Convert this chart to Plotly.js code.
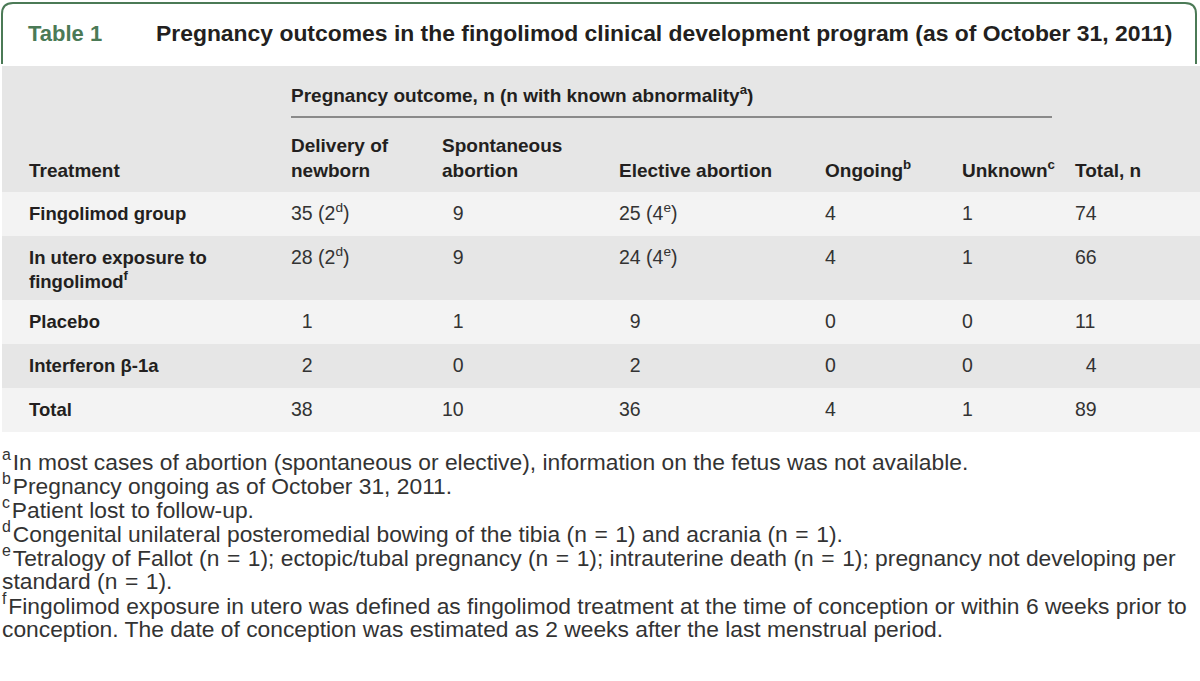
<!DOCTYPE html>
<html>
<head>
<meta charset="utf-8">
<script src="https://cdn.plot.ly/plotly-3.0.1.min.js"></script>
<style>html,body{margin:0;padding:0;background:#fff;}#chart{width:1200px;height:681px;}</style>
</head>
<body>
<div id="chart"></div>
<script>
// ---------- data ----------
const tableNumber = 'Table 1';
const tableTitle = 'Pregnancy outcomes in the fingolimod clinical development program (as of October 31, 2011)';
const spannerLabel = 'Pregnancy outcome, n (n with known abnormality<sup>a</sup>)';
const columnHeaders = ['Treatment', 'Delivery of<br>newborn', 'Spontaneous<br>abortion', 'Elective abortion', 'Ongoing<sup>b</sup>', 'Unknown<sup>c</sup>', 'Total, n'];
const treatments = ['Fingolimod group', 'In utero exposure to<br>fingolimod<sup>f</sup>', 'Placebo', 'Interferon β-1a', 'Total'];
const deliveryOfNewborn = [35, 28, 1, 2, 38];
const deliveryAbnormal = [2, 2, null, null, null];
const deliveryAbnormalNote = 'd';
const spontaneousAbortion = [9, 9, 1, 0, 10];
const electiveAbortion = [25, 24, 9, 2, 36];
const electiveAbnormal = [4, 4, null, null, null];
const electiveAbnormalNote = 'e';
const ongoing = [4, 4, 0, 0, 4];
const unknown = [1, 1, 0, 0, 1];
const totalN = [74, 66, 11, 4, 89];
const footnoteKeys = ['a', 'b', 'c', 'd', 'e', 'f'];
const footnoteTexts = [
  'In most cases of abortion (spontaneous or elective), information on the fetus was not available.',
  'Pregnancy ongoing as of October 31, 2011.',
  'Patient lost to follow-up.',
  'Congenital unilateral posteromedial bowing of the tibia (n = 1) and acrania (n = 1).',
  'Tetralogy of Fallot (n = 1); ectopic/tubal pregnancy (n = 1); intrauterine death (n = 1); pregnancy not developing per<br>standard (n = 1).',
  'Fingolimod exposure in utero was defined as fingolimod treatment at the time of conception or within 6 weeks prior to<br>conception. The date of conception was estimated as 2 weeks after the last menstrual period.'
];

// ---------- helpers ----------
const W = 1200, H = 681;
const px = x => x / W;
const py = y => 1 - y / H;
const FIG = '\u2007';
// blank superscript so every cell has the same text box height (keeps baselines aligned)
const GHOST = '<sup>\u00A0</sup>';
function withGhost(s) {
  const lines = s.split('<br>');
  if (lines[0].indexOf('<sup>') < 0) lines[0] += GHOST;
  return lines.join('<br>');
}
function formatColumn(vals, abn, note) {
  const maxLen = Math.max(...vals.map(v => String(v).length));
  return vals.map((v, i) => {
    let s = String(v);
    while (s.length < maxLen) s = FIG + s;
    if (abn && abn[i] != null) s += ' (' + abn[i] + '<sup>' + note + '</sup>)';
    return withGhost(s);
  });
}
const bold = s => s.split('<br>').map(l => '<b>' + l + '</b>').join('<br>');

const GREEN = '#4b7a56';
const DARK = '#231f20';
const BODY = '#333333';
const HEAD_BG = '#e6e6e6';
const ROW_LIGHT = '#f3f3f3';
const FONT = 'Liberation Sans';

const headerVals = [''].concat(columnHeaders.map(h => h.indexOf('<br>') >= 0 ? bold(h) : ' <br>' + bold(h)));
const cellCols = [
  treatments.map(() => ''),
  treatments.map(t => withGhost(bold(t))),
  formatColumn(deliveryOfNewborn, deliveryAbnormal, deliveryAbnormalNote),
  formatColumn(spontaneousAbortion),
  formatColumn(electiveAbortion, electiveAbnormal, electiveAbnormalNote),
  formatColumn(ongoing),
  formatColumn(unknown),
  formatColumn(totalN)
];
const rowFills = treatments.map((_, i) => i % 2 === 0 ? ROW_LIGHT : HEAD_BG);

const trace = {
  type: 'table',
  domain: {x: [px(2), 1], y: [py(480), py(127)]},
  columnwidth: [19, 262, 151, 177, 206, 137, 113, 133],
  header: {
    values: headerVals.map(v => [v]),
    align: 'left',
    height: 65,
    fill: {color: HEAD_BG},
    line: {width: 0, color: HEAD_BG},
    font: {family: FONT, size: 19, color: DARK}
  },
  cells: {
    values: cellCols,
    align: 'left',
    height: 44,
    fill: {color: [rowFills]},
    line: {width: 0, color: ROW_LIGHT},
    font: {family: FONT, size: [19, 18.5, 19.5, 19.5, 19.5, 19.5, 19.5, 19.5], color: [DARK, DARK, BODY, BODY, BODY, BODY, BODY, BODY]}
  }
};

const shapes = [
  {type: 'rect', xref: 'paper', yref: 'paper', x0: px(2), x1: 1, y0: py(128), y1: py(66), fillcolor: HEAD_BG, line: {width: 0}, layer: 'below'},
  {type: 'path', xref: 'paper', yref: 'paper',
   path: `M${px(2)},${py(64)} L${px(2)},${py(14)} Q${px(2)},${py(3)} ${px(13)},${py(3)} L${px(1185)},${py(3)} Q${px(1196)},${py(3)} ${px(1196)},${py(14)} L${px(1196)},${py(64)}`,
   line: {color: GREEN, width: 2}},
  {type: 'line', xref: 'paper', yref: 'paper', x0: px(291), x1: px(1052), y0: py(117), y1: py(117), line: {color: '#8a8a8a', width: 2}}
];

const annotations = [
  {text: '<b>' + tableNumber + '</b>', x: px(26), y: py(33), xref: 'paper', yref: 'paper', xanchor: 'left', yanchor: 'middle', showarrow: false, font: {family: FONT, size: 22, color: GREEN}},
  {text: '<b>' + tableTitle + '</b>', x: px(154), y: py(33), xref: 'paper', yref: 'paper', xanchor: 'left', yanchor: 'middle', showarrow: false, font: {family: FONT, size: 22.9, color: DARK}},
  {text: '<b>' + spannerLabel + '</b>', x: px(289), y: py(94), xref: 'paper', yref: 'paper', xanchor: 'left', yanchor: 'middle', showarrow: false, font: {family: FONT, size: 19, color: DARK}}
];
let lineIdx = 0;
footnoteKeys.forEach((k, i) => {
  const parts = footnoteTexts[i].replace(/ = /g, '\u2004=\u2004').split('<br>');
  parts.forEach((p, j) => {
    annotations.push({
      text: (j === 0 ? '<sup>' + k + '</sup>\u200A' : '') + p,
      x: px(0), y: py(460 + 24.1 * lineIdx), xref: 'paper', yref: 'paper',
      xanchor: 'left', yanchor: 'middle', showarrow: false,
      font: {family: FONT, size: 22.8, color: BODY}
    });
    lineIdx++;
  });
});

Plotly.newPlot('chart', [trace], {
  width: W, height: H, margin: {l: 0, r: 0, t: 0, b: 0},
  paper_bgcolor: '#ffffff', showlegend: false,
  shapes: shapes, annotations: annotations
}, {displayModeBar: false, staticPlot: true});
</script>
</body>
</html>
